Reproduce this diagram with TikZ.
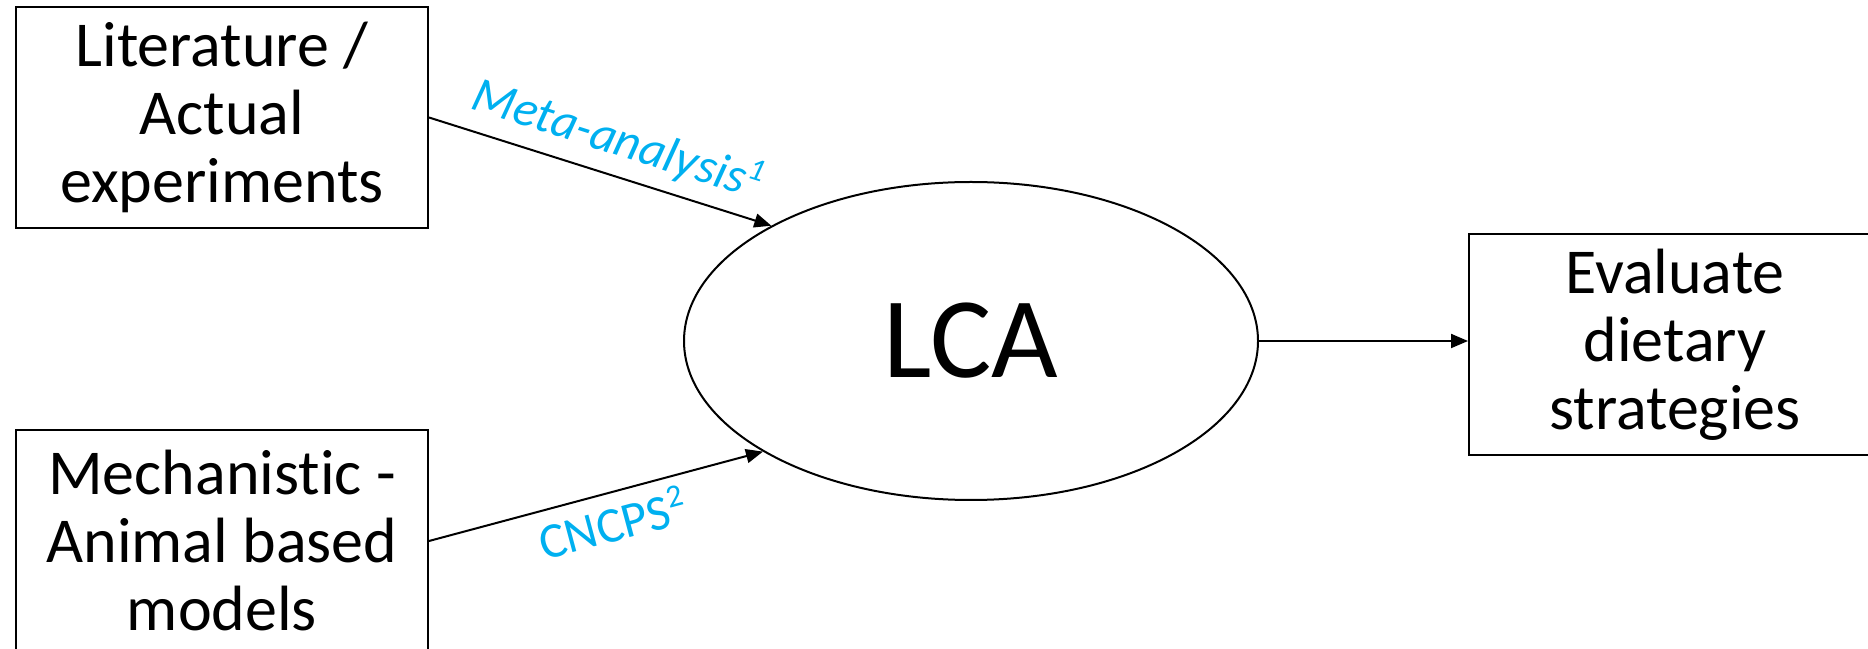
\documentclass[tikz,border=0pt]{standalone}
\usepackage{fontspec}
\setmainfont[Ligatures={NoCommon}]{Carlito}
\usetikzlibrary{shapes.geometric,arrows.meta}
\definecolor{lblue}{RGB}{0,176,240}
\newcommand{\supnum}[1]{\raisebox{0.75ex}{\fontsize{32}{32}\selectfont #1}}
\begin{document}
\begin{tikzpicture}[x=1pt,y=1pt,
  box/.style={draw, line width=2pt, minimum width=412pt, minimum height=221pt,
    inner sep=0pt, align=center, font=\fontsize{64}{68}\selectfont},
  conn/.style={line width=2pt, -{Triangle[length=17pt,width=14pt]}},
  lbl/.style={text=lblue, font=\fontsize{50}{54}\selectfont}]
\useasboundingbox (0,0) rectangle (1868,648);
\node[box] (b1) at (222,530.5) {Literature /\\Actual\\experiments};
\node[box] (b2) at (222,107) {Mechanistic -\\Animal based\\models};
\node[box] (b3) at (1675,303.5) {Evaluate\\dietary\\strategies};
\node[draw, ellipse, line width=2pt, minimum width=574pt, minimum height=318pt,
  inner sep=0pt, font=\fontsize{115}{120}\selectfont] (lca) at (971,307) {LCA};
\draw[conn] (b1.east) -- node[lbl, sloped, above=8pt, pos=0.52] {\itshape Meta-analysis\supnum{1}} (lca.150.8);
\draw[conn] (b2.east) -- node[lbl, sloped, below=6pt, pos=0.525] {CNCPS\supnum{2}} (lca.208.8);
\draw[conn] (lca.east) -- (lca.east -| b3.west);
\end{tikzpicture}
\end{document}
